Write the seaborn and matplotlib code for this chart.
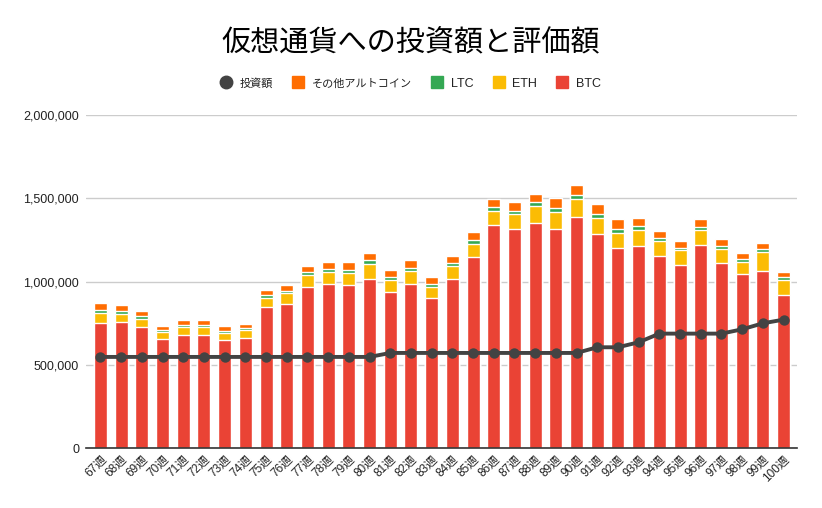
import numpy as np
import pandas as pd
import matplotlib
matplotlib.use("Agg")
import matplotlib.pyplot as plt
from matplotlib.lines import Line2D
import seaborn as sns

weeks = [f"{w}週" for w in range(67, 101)]

# values in thousand yen
btc = [750, 757, 727, 655, 679, 679, 649, 661, 847, 865, 967, 985, 979, 1015, 937, 985, 901,
       1015, 1147, 1339, 1315, 1351, 1315, 1387, 1285, 1201, 1213, 1153, 1099, 1219, 1111,
       1045, 1063, 919]
eth = [61, 48, 48, 42, 48, 48, 42, 48, 54, 66, 72, 72, 72, 90, 72, 78, 66,
       78, 78, 84, 90, 102, 102, 109, 96, 90, 96, 90, 90, 90, 84,
       72, 114, 90]
ltc = [20, 18, 20, 14, 14, 14, 12, 14, 18, 12, 18, 18, 18, 24, 18, 18, 18,
       18, 24, 24, 18, 24, 24, 24, 24, 24, 24, 18, 12, 18, 18,
       18, 18, 18]
other = [40, 36, 28, 22, 28, 28, 30, 22, 30, 36, 36, 42, 48, 42, 42, 48, 42,
         42, 48, 49, 54, 49, 61, 60, 60, 60, 48, 42, 42, 48, 42,
         36, 36, 30]
invest = [547, 547, 547, 547, 547, 547, 547, 547, 547, 547, 547, 547, 547, 547,
          571, 571, 571, 571, 571, 571, 571, 571, 571, 571,
          605, 605, 635, 687, 687, 687, 687, 713, 749, 771]

df = pd.DataFrame({"week": weeks,
                   "BTC": np.array(btc) * 1000,
                   "ETH": np.array(eth) * 1000,
                   "LTC": np.array(ltc) * 1000,
                   "other": np.array(other) * 1000,
                   "invest": np.array(invest) * 1000})
df["s_eth"] = df["BTC"] + df["ETH"]
df["s_ltc"] = df["s_eth"] + df["LTC"]
df["s_all"] = df["s_ltc"] + df["other"]

colors = {"BTC": "#ea4335", "ETH": "#fbbc04", "LTC": "#34a853", "other": "#ff6d01"}
line_color = "#434343"

sns.set_theme(style="white")
plt.rcParams["font.family"] = ["Liberation Sans", "Noto Sans CJK JP", "DejaVu Sans"]

fig = plt.figure(figsize=(8.22, 5.08), dpi=100)
ax = fig.add_axes([0.1046, 0.1181, 0.865, 0.6555])

# stacked bars drawn as overlapping cumulative bars
for col, key in [("s_all", "other"), ("s_ltc", "LTC"), ("s_eth", "ETH"), ("BTC", "BTC")]:
    sns.barplot(data=df, x="week", y=col, color=colors[key], saturation=1,
                width=0.63, ax=ax, zorder=2)

x = np.arange(len(weeks))
sns.lineplot(x=x, y=df["invest"], color=line_color, linewidth=2.8, marker="o",
             markersize=7.5, markeredgewidth=0, ax=ax, zorder=5)

ax.set_ylim(0, 2000000)
ax.set_xlim(-0.7, len(weeks) - 0.35)
ax.set_yticks([0, 500000, 1000000, 1500000, 2000000])
ax.set_yticklabels(["0", "500,000", "1,000,000", "1,500,000", "2,000,000"])
ax.yaxis.grid(True, color="#cccccc", linewidth=1, zorder=0)
ax.set_axisbelow(True)
ax.set_xlabel("")
ax.set_ylabel("")
for s in ["left", "right", "top"]:
    ax.spines[s].set_visible(False)
ax.spines["bottom"].set_color("#333333")
ax.spines["bottom"].set_linewidth(1.2)
ax.tick_params(axis="y", length=0, labelsize=9, colors="#222222", pad=5)
ax.tick_params(axis="x", length=0, labelsize=8.5, colors="#222222", pad=4)
plt.setp(ax.get_xticklabels(), rotation=45, ha="right", rotation_mode="anchor")

fig.text(0.5, 0.915, "仮想通貨への投資額と評価額", ha="center", va="center",
         fontsize=21, color="#000000", family=["Noto Sans CJK JP"], weight="normal")

handles = [
    Line2D([], [], marker="o", linestyle="", color=line_color, markersize=9),
    Line2D([], [], marker="s", linestyle="", color=colors["other"], markersize=9),
    Line2D([], [], marker="s", linestyle="", color=colors["LTC"], markersize=9),
    Line2D([], [], marker="s", linestyle="", color=colors["ETH"], markersize=9),
    Line2D([], [], marker="s", linestyle="", color=colors["BTC"], markersize=9),
]
labels = ["投資額", "その他アルトコイン", "LTC", "ETH", "BTC"]
leg = fig.legend(handles, labels, loc="center", bbox_to_anchor=(0.5, 0.835), ncol=5,
                 frameon=False, fontsize=9, handlelength=0.8, handletextpad=0.7,
                 columnspacing=1.6, labelcolor="#222222")
for t in leg.get_texts():
    if not t.get_text().isascii():
        t.set_fontsize(8)

fig.savefig("out.png", dpi=100)
